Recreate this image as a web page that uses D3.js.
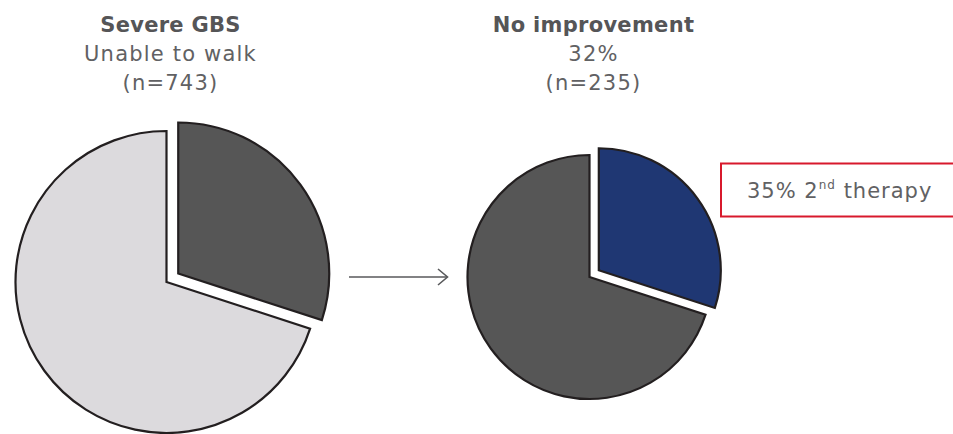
<!DOCTYPE html>
<html>
<head>
  <meta charset="utf-8" />
  <script src="https://cdn.jsdelivr.net/npm/d3@7"></script>
  <style>
    body{ margin:0; background:white; }
    text{ font-family:"DejaVu Sans", sans-serif; }
  </style>
</head>
<body>
<script>
// - - - - - DATA - - - - - //
var leftTitle = ["Severe GBS", "Unable to walk", "(n=743)"];
var rightTitle = ["No improvement", "32%", "(n=235)"];
//slice shares as drawn (first slice is the exploded one)
var leftSlices = [30, 70];
var rightSlices = [30, 70];
var leftColors = ["#565656", "#dcdadd"];
var rightColors = ["#1f3773", "#565656"];
var callout = ["35% 2", "nd", " therapy"];

// - - - - - CANVAS - - - - - //
var w = 953, h = 434;
var svg = d3.select("body").append("svg")
  .attr("width", w)
  .attr("height", h);

var pie = d3.pie().sort(null);

//draw one pie with first slice pulled out
var drawPie = function(vals, colors, cx, cy, r, pull){
  var arc = d3.arc().innerRadius(0).outerRadius(r);
  var g = svg.append("g").attr("transform", "translate(" + cx + "," + cy + ")");
  g.selectAll("path")
    .data(pie(vals))
    .enter()
    .append("path")
    .attr("d", arc)
    .attr("transform", function(d, i){
      if(i > 0) return null;
      var a = (d.startAngle + d.endAngle) / 2;
      return "translate(" + (Math.sin(a) * pull) + "," + (-Math.cos(a) * pull) + ")";
    })
    .attr("fill", function(d, i){ return colors[i]; })
    .attr("stroke", "#231f20")
    .attr("stroke-width", 2.2)
    .attr("stroke-linejoin", "miter");
};

drawPie(leftSlices, leftColors, 166.5, 282, 151, 14.5);
drawPie(rightSlices, rightColors, 589.5, 277, 122, 11.5);

// - - - - - TITLES - - - - - //
var drawTitle = function(lines, x){
  svg.append("g").selectAll("text")
    .data(lines)
    .enter()
    .append("text")
    .attr("x", x)
    .attr("y", function(d, i){ return 32 + i * 29; })
    .attr("text-anchor", "middle")
    .attr("font-size", "21px")
    .attr("letter-spacing", function(d, i){ return i == 0 ? "0.3px" : "1.2px"; })
    .attr("font-weight", function(d, i){ return i == 0 ? "bold" : "normal"; })
    .attr("fill", function(d, i){ return i == 0 ? "#555557" : "#616163"; })
    .text(function(d){ return d; });
};
drawTitle(leftTitle, 170.5);
drawTitle(rightTitle, 593.5);

// - - - - - ARROW - - - - - //
svg.append("line")
  .attr("x1", 349).attr("y1", 277)
  .attr("x2", 447).attr("y2", 277)
  .attr("stroke", "#58595b").attr("stroke-width", 1.6);
svg.append("path")
  .attr("d", "M438,269 L447.5,277 L438,285")
  .attr("fill", "none")
  .attr("stroke", "#58595b").attr("stroke-width", 1.6);

// - - - - - CALLOUT BOX - - - - - //
svg.append("rect")
  .attr("x", 721).attr("y", 163.5)
  .attr("width", 260).attr("height", 53)
  .attr("fill", "white")
  .attr("stroke", "#d8192c").attr("stroke-width", 2);
var ct = svg.append("text")
  .attr("x", 747).attr("y", 198)
  .attr("font-size", "21px")
  .attr("letter-spacing", "1px")
  .attr("fill", "#616163");
ct.append("tspan").text(callout[0]);
ct.append("tspan").attr("font-size", "12px").attr("dy", "-9").text(callout[1]);
ct.append("tspan").attr("dy", "9").text(callout[2]);
</script>
</body>
</html>
